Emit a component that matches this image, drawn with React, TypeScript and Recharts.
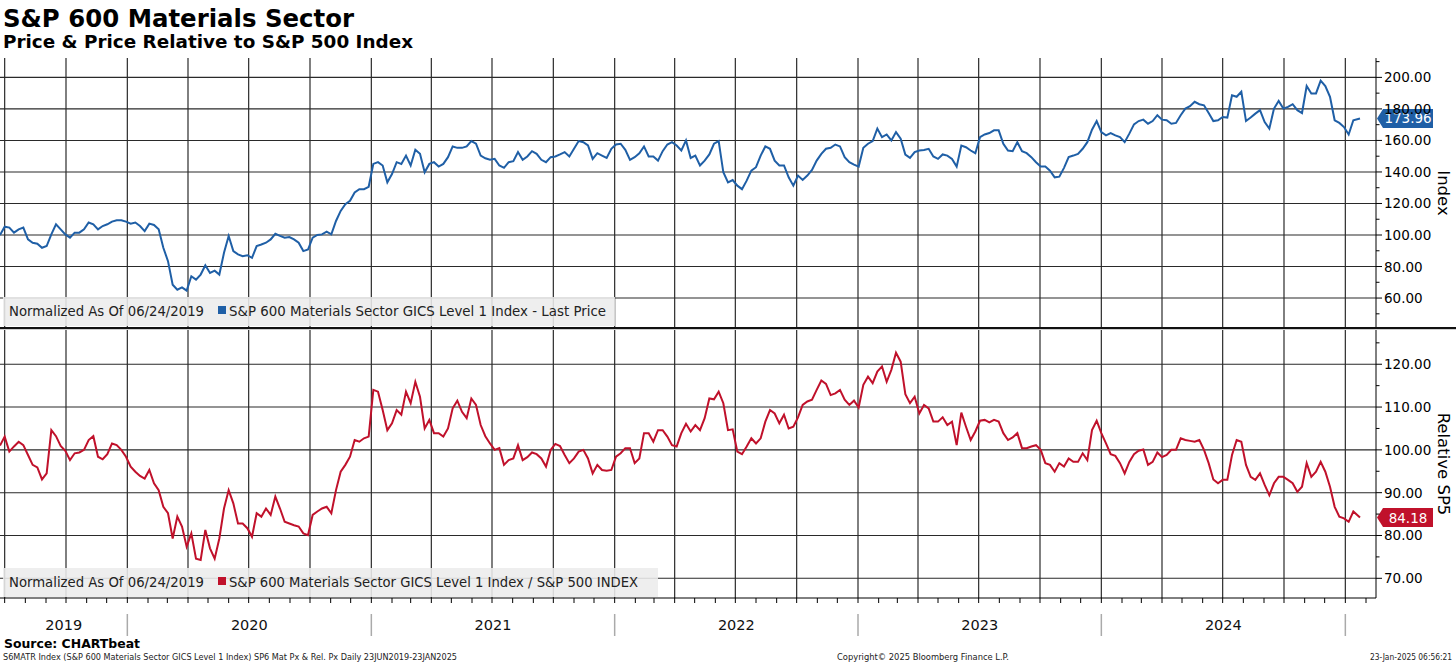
import React from 'react';
import { LineChart, Line, XAxis, YAxis, ReferenceLine } from 'recharts';

// weekly closes read off the chart, first point 24 Jun 2019, last 23 Jan 2025
const priceValues = [
  100, 105.3, 104.7, 101.5, 103.6, 104.7, 97.2, 95.1, 94.5, 91.9,
  93, 100.4, 106.8, 103.6, 100.4, 98.3, 101.5, 101.5, 103.6, 107.9,
  106.8, 103.6, 105.7, 106.8, 108.5, 109.4, 109.4, 108.5, 107.2, 107.9,
  105.7, 102.5, 107.2, 106.4, 103.6, 91.9, 83.4, 68.5, 65.3, 66.8,
  64.7, 73.8, 71.7, 74.9, 80.8, 75.9, 77.4, 74.9, 88.7, 99.4,
  89.8, 87.7, 86.6, 87.2, 85.5, 93, 94, 95.1, 97.2, 100.8,
  99.4, 98.3, 98.7, 97.2, 95.1, 89.8, 90.8, 98.3, 100, 100.4,
  102.1, 100.4, 108.9, 115.3, 119.6, 121.7, 127, 129.1, 129.1, 130.6,
  145.1, 146.2, 144.1, 133.4, 138.7, 146.2, 145.1, 150.4, 144.1, 154.1,
  151.5, 139.8, 145.1, 146.2, 143.4, 145.1, 149.4, 156.2, 155.3, 155.3,
  156.2, 159.6, 157.9, 150.4, 148.7, 147.7, 148.3, 144.1, 142.6, 146.2,
  146.8, 152.6, 147.7, 149.8, 153.2, 151.5, 147.7, 146.2, 149.4, 149.8,
  151.1, 152.6, 149.8, 154.7, 159.6, 158.9, 156.8, 148.3, 151.9, 150.4,
  148.9, 154.7, 157.4, 157.9, 154, 147.7, 149.4, 151.9, 156.2, 149.8,
  149.8, 147.2, 153.2, 157.4, 158.9, 156.8, 153.6, 160, 148.9, 150.4,
  144.1, 147.2, 151.1, 157.9, 159.6, 139.8, 133.4, 134.9, 131.3, 129.1,
  134.5, 140.8, 143, 150.4, 156.2, 154.7, 147.2, 144.1, 144.1, 136.6,
  131.3, 137.7, 134.9, 137.7, 141.3, 147.2, 151.5, 154.7, 155.3, 157.4,
  156.2, 149.4, 146.2, 144.7, 143.4, 155.3, 157.9, 159.6, 167.5, 162.1,
  163.8, 160, 165.3, 161.1, 151, 148.9, 152.6, 153.6, 154, 154.7,
  149.8, 148.3, 151.1, 150.4, 148.3, 143.4, 156.8, 155.7, 153.6, 151.9,
  162.1, 163.8, 164.7, 166.4, 166.4, 157.9, 153.6, 153.2, 158.9, 153.2,
  151.9, 149.4, 146.2, 143.4, 143.4, 140.8, 136.6, 137, 142.6, 149.4,
  150.4, 151.5, 154.7, 158.9, 166.8, 172.3, 165.3, 163.2, 164.7, 163.2,
  162.1, 158.9, 164.3, 170.2, 172.3, 173.2, 170.6, 172.3, 176, 173.2,
  172.8, 170.6, 171.1, 176, 180.2, 181.7, 184.5, 183, 182.3, 177.4,
  172.3, 172.8, 174.9, 174.5, 188.7, 187.7, 190.9, 172.3, 174.5, 177,
  179.2, 171.7, 167.5, 180.2, 185.1, 180.2, 181.3, 183, 179.2, 177.4,
  194.5, 189.8, 189.8, 197.9, 194.5, 187.7, 172.8, 171.1, 168.5, 163.8,
  172.8, 173.96,
];

const relativeValues = [
  101, 103.1, 99.6, 100.8, 101.9, 101.1, 98.8, 96.5, 95.9, 93.1,
  94.5, 104.6, 103.2, 100.9, 99.8, 97.6, 99.2, 99.4, 100, 102.3,
  103.2, 98.4, 97.8, 99, 101.5, 101.1, 100, 98.4, 96.1, 94.9,
  93.9, 93.3, 95.3, 92.2, 90.6, 86.7, 85.2, 79.3, 84.4, 82.1,
  77.4, 80.5, 74.6, 74.3, 81.3, 77, 74.6, 79.3, 86.3, 90.6,
  87.5, 82.8, 82.8, 81.7, 79.7, 85.2, 84.4, 86.3, 84.8, 89.1,
  86.3, 83.2, 82.8, 82.4, 82.1, 80.5, 80.1, 84.8, 85.6, 86.3,
  86.7, 85.2, 90.6, 94.9, 96.5, 98.4, 102.3, 101.9, 102.7, 103.1,
  114, 113.6, 109.3, 104.6, 106.2, 109.3, 108.2, 113.6, 110.9, 115.9,
  112.4, 105, 107, 103.9, 103.9, 103.1, 105, 109.7, 111.5, 108.9,
  107.4, 112, 110.5, 105.8, 103.2, 101.5, 100, 100.4, 96.5, 97.6,
  98, 101.1, 97.6, 98.3, 99.4, 99, 98, 96.1, 100, 101.4,
  100.9, 98.8, 96.9, 98, 99.6, 100, 98, 94.5, 96.5, 95.3,
  95.1, 95.3, 98.4, 99.2, 100.4, 100.4, 96.9, 98, 103.9, 103.9,
  101.9, 104.6, 104.6, 103.1, 101.1, 100.8, 103.9, 106.1, 104.3, 105.8,
  104.6, 107.4, 112, 111.8, 113.6, 110.9, 104.6, 104.8, 99.6, 99,
  100.8, 102.7, 101.5, 102.7, 106.6, 109.3, 108.5, 106.2, 108.2, 105,
  105.4, 107.6, 110.5, 111.3, 111.7, 114, 116.2, 115.4, 112.8, 113.2,
  114, 111.7, 110.5, 111.5, 109.9, 115.2, 117.1, 115.6, 118.3, 119.5,
  115.9, 118.7, 122.7, 120.6, 113, 110.9, 112.4, 108.5, 110.5, 109.7,
  106.6, 106.6, 107.6, 105.8, 106.6, 101.1, 108.7, 105.4, 102.3, 104.3,
  106.8, 107, 106.4, 107, 106.6, 103.9, 102.3, 102.9, 103.9, 100.4,
  100.4, 100.8, 101.1, 100, 96.9, 96.5, 94.9, 96.9, 96.1, 98,
  97.2, 97.2, 99.2, 97.6, 104.6, 106.8, 103.9, 101.5, 99, 98.6,
  96.9, 94.5, 97.2, 99, 99.8, 100.1, 96.5, 97.2, 99.4, 98.3,
  98.8, 100, 100, 102.7, 102.3, 102.1, 101.9, 102.3, 100, 96.9,
  93.1, 92.2, 93, 93, 98.8, 102.3, 101.9, 96.5, 93.7, 93,
  94.5, 91.8, 89.4, 92.2, 93.7, 93.7, 93, 92.2, 90.2, 91.4,
  96.9, 93.7, 94.9, 97.2, 94.9, 91.4, 86.7, 84.4, 84, 83.2,
  85.6, 84.18,
];

const quarterStarts = [
  '2019-07-01', '2019-10-01',
  '2020-01-01', '2020-04-01', '2020-07-01', '2020-10-01',
  '2021-01-01', '2021-04-01', '2021-07-01', '2021-10-01',
  '2022-01-01', '2022-04-01', '2022-07-01', '2022-10-01',
  '2023-01-01', '2023-04-01', '2023-07-01', '2023-10-01',
  '2024-01-01', '2024-04-01', '2024-07-01', '2024-10-01',
  '2025-01-01',
];
const yearLabels = ['2019', '2020', '2021', '2022', '2023', '2024'];
const yearStarts = ['2020-01-01', '2021-01-01', '2022-01-01', '2023-01-01', '2024-01-01', '2025-01-01'];

const priceTicks = [50, 60, 70, 80, 90, 100, 110, 120, 130, 140, 150, 160, 170, 180, 190, 200, 210];
const priceGrid = [60, 80, 100, 120, 140, 160, 180, 200];
const relTicks = [70, 75, 80, 85, 90, 95, 100, 105, 110, 115, 120, 125];
const relGrid = [70, 80, 90, 100, 110, 120];

const FIRST_DATE = '2019-06-24';
const LAST_DATE = '2025-01-23';
const LAST_PRICE = '173.96';
const LAST_REL = '84.18';

const BLUE = '#1f5fa6';
const RED = '#c0112b';
const GRID = '#2a2a2a';
const FONT = '"DejaVu Sans", Verdana, sans-serif';

const DAY = 86400000;
const START = Date.parse(FIRST_DATE + 'T00:00:00Z');
const dayOf = (iso: string) => Math.round((Date.parse(iso + 'T00:00:00Z') - START) / DAY);
const X_END = 2064;

const rows = priceValues.map((p, i) => ({
  day: i === priceValues.length - 1 ? dayOf(LAST_DATE) : i * 7,
  price: p,
  rel: relativeValues[i],
}));

const quarterDays = quarterStarts.map(dayOf);
const boundaryDays = yearStarts.map(dayOf);
const labelDays = yearLabels.map((_, i) => {
  const a = i === 0 ? 0 : boundaryDays[i - 1];
  return (a + boundaryDays[i]) / 2;
});
const yearAxisTicks = [...boundaryDays, ...labelDays];

const monthTicks: number[] = [];
for (let y = 2019; y <= 2025; y++) {
  for (let m = 0; m < 12; m++) {
    const d = Math.round((Date.UTC(y, m, 1) - START) / DAY);
    if (d > 0 && d < X_END) monthTicks.push(d);
  }
}

function makeYTick(isMajor: (v: number) => boolean) {
  return (props: any) => {
    const { x, y, payload } = props;
    const major = isMajor(payload.value);
    return (
      <g>
        <line x1={x} x2={x + (major ? 6 : 3.5)} y1={y} y2={y} stroke="#000" strokeWidth={1} />
        {major && (
          <text x={x + 8} y={y + 5} fontSize={13.5} fontFamily={FONT} fill="#000">
            {payload.value.toFixed(2)}
          </text>
        )}
      </g>
    );
  };
}

const priceTick = makeYTick((v) => v % 20 === 0 && v >= 60 && v <= 200);
const relTick = makeYTick((v) => v % 10 === 0);

function YearTick(props: any) {
  const { x, y, payload } = props;
  const idx = labelDays.indexOf(payload.value);
  if (idx < 0) {
    return <line x1={x} x2={x} y1={y + 10} y2={y + 32} stroke="#aaa" strokeWidth={1.5} />;
  }
  return (
    <text x={x} y={y + 26} textAnchor="middle" fontSize={14.5} fontFamily={FONT} fill="#111">
      {yearLabels[idx]}
    </text>
  );
}

function ValueTag({ viewBox, text, color }: any) {
  if (!viewBox) return null;
  const x = viewBox.x + viewBox.width;
  const y = viewBox.y;
  const h = 19;
  return (
    <g>
      <path d={`M${x + 1},${y} L${x + 7},${y - h / 2} H${x + 57} V${y + h / 2} H${x + 7} Z`} fill={color} />
      <text x={x + 32} y={y + 5} textAnchor="middle" fontSize={13.5} fontFamily={FONT} fill="#fff">
        {text}
      </text>
    </g>
  );
}

function AxisTitle({ viewBox, text }: any) {
  if (!viewBox) return null;
  const cx = viewBox.x + viewBox.width - 13;
  const cy = viewBox.y + viewBox.height / 2;
  return (
    <text x={cx} y={cy} transform={`rotate(90 ${cx} ${cy})`} textAnchor="middle" dominantBaseline="central"
      fontSize={16.5} fontFamily={FONT} fill="#000">
      {text}
    </text>
  );
}

function Legend({ x, y, w, color, text, textEnd }: any) {
  return (
    <g>
      <rect x={x} y={y} width={w} height={29} fill="#ececec" fillOpacity={0.88} />
      <text x={x + 6} y={y + 19} fontSize={13.5} fontFamily={FONT} fill="#222" textLength={195} lengthAdjust="spacingAndGlyphs">
        Normalized As Of 06/24/2019
      </text>
      <rect x={x + 215} y={y + 9} width={8} height={8} fill={color} />
      <text x={x + 226} y={y + 19} fontSize={13.5} fontFamily={FONT} fill="#222" textLength={textEnd - x - 226} lengthAdjust="spacingAndGlyphs">
        {text}
      </text>
    </g>
  );
}

export default function App() {
  return (
    <div style={{ position: 'absolute', left: 0, top: 0, width: 1456, height: 665, background: '#fff', overflow: 'hidden' }}>
      <div style={{ position: 'absolute', left: 0, top: 58 }}>
        <LineChart width={1456} height={270} data={rows} margin={{ top: 0, right: 0, bottom: 0, left: 0 }}>
          <XAxis dataKey="day" type="number" domain={[0, X_END]} allowDataOverflow hide />
          <YAxis
            orientation="right"
            type="number"
            domain={[41, 212.3]}
            allowDataOverflow
            ticks={priceTicks}
            interval={0}
            width={80}
            tickSize={0}
            tickMargin={0}
            tickLine={false}
            axisLine={{ stroke: '#000' }}
            tick={priceTick}
            label={(p: any) => <AxisTitle viewBox={p.viewBox} text="Index" />}
          />
          {quarterDays.map((d) => (
            <ReferenceLine key={'q' + d} x={d} stroke={GRID} strokeWidth={1.2} />
          ))}
          {priceGrid.map((v) => (
            <ReferenceLine key={'h' + v} y={v} stroke={GRID} strokeWidth={1.1} />
          ))}
          <Line type="linear" dataKey="price" stroke={BLUE} strokeWidth={2} dot={false} isAnimationActive={false} />
          <ReferenceLine
            y={Number(LAST_PRICE)}
            stroke="none"
            label={(p: any) => <ValueTag viewBox={p.viewBox} text={LAST_PRICE} color={BLUE} />}
          />
        </LineChart>
      </div>

      <div style={{ position: 'absolute', left: 0, top: 329 }}>
        <LineChart width={1456} height={311} data={rows} margin={{ top: 1, right: 0, bottom: 0, left: 0 }}>
          <XAxis
            xAxisId="m"
            dataKey="day"
            type="number"
            domain={[0, X_END]}
            allowDataOverflow
            ticks={monthTicks}
            interval={0}
            height={6}
            tickSize={5}
            axisLine={{ stroke: '#000' }}
            tickLine={{ stroke: '#000' }}
            tick={() => <g />}
          />
          <XAxis
            xAxisId="y"
            dataKey="day"
            type="number"
            domain={[0, X_END]}
            allowDataOverflow
            ticks={yearAxisTicks}
            interval={0}
            height={36}
            tickSize={0}
            tickMargin={0}
            axisLine={false}
            tickLine={false}
            tick={YearTick}
          />
          <YAxis
            orientation="right"
            type="number"
            domain={[65.4, 128]}
            allowDataOverflow
            ticks={relTicks}
            interval={0}
            width={80}
            tickSize={0}
            tickMargin={0}
            tickLine={false}
            axisLine={{ stroke: '#000' }}
            tick={relTick}
            label={(p: any) => <AxisTitle viewBox={p.viewBox} text="Relative SP5" />}
          />
          {quarterDays.map((d) => (
            <ReferenceLine key={'q' + d} xAxisId="m" x={d} stroke={GRID} strokeWidth={1.2} />
          ))}
          {relGrid.map((v) => (
            <ReferenceLine key={'h' + v} xAxisId="m" y={v} stroke={GRID} strokeWidth={1.1} />
          ))}
          <Line xAxisId="m" type="linear" dataKey="rel" stroke={RED} strokeWidth={2} dot={false} isAnimationActive={false} />
          <ReferenceLine
            xAxisId="m"
            y={Number(LAST_REL)}
            stroke="none"
            label={(p: any) => <ValueTag viewBox={p.viewBox} text={LAST_REL} color={RED} />}
          />
        </LineChart>
      </div>

      <svg width={1456} height={665} style={{ position: 'absolute', left: 0, top: 0, pointerEvents: 'none' }}>
        <text x={3} y={27} fontSize={24.5} fontWeight="bold" fontFamily={FONT} fill="#000" textLength={351} lengthAdjust="spacingAndGlyphs">
          S&amp;P 600 Materials Sector
        </text>
        <text x={3} y={48} fontSize={18.4} fontWeight="bold" fontFamily={FONT} fill="#000" textLength={410} lengthAdjust="spacingAndGlyphs">
          Price &amp; Price Relative to S&amp;P 500 Index
        </text>
        <rect x={0} y={327} width={1456} height={2.2} fill="#111" />
        <Legend x={3} y={297} w={612} color={BLUE} text="S&P 600 Materials Sector GICS Level 1 Index - Last Price" textEnd={606} />
        <Legend x={3} y={568} w={655} color={RED} text="S&P 600 Materials Sector GICS Level 1 Index / S&P 500 INDEX" textEnd={638} />
        <text x={4} y={648} fontSize={12.5} fontWeight="bold" fontFamily={FONT} fill="#000" textLength={136} lengthAdjust="spacingAndGlyphs">
          Source: CHARTbeat
        </text>
        <text x={3} y={660} fontSize={8} fontFamily={FONT} fill="#222" textLength={454} lengthAdjust="spacingAndGlyphs">
          S6MATR Index (S&amp;P 600 Materials Sector GICS Level 1 Index) SP6 Mat Px &amp; Rel. Px  Daily 23JUN2019-23JAN2025
        </text>
        <text x={837} y={660} fontSize={8} fontFamily={FONT} fill="#222" textLength={172} lengthAdjust="spacingAndGlyphs">
          Copyright© 2025 Bloomberg Finance L.P.
        </text>
        <text x={1452} y={660} textAnchor="end" fontSize={8} fontFamily={FONT} fill="#222" textLength={82} lengthAdjust="spacingAndGlyphs">
          23-Jan-2025 06:56:21
        </text>
      </svg>
    </div>
  );
}
